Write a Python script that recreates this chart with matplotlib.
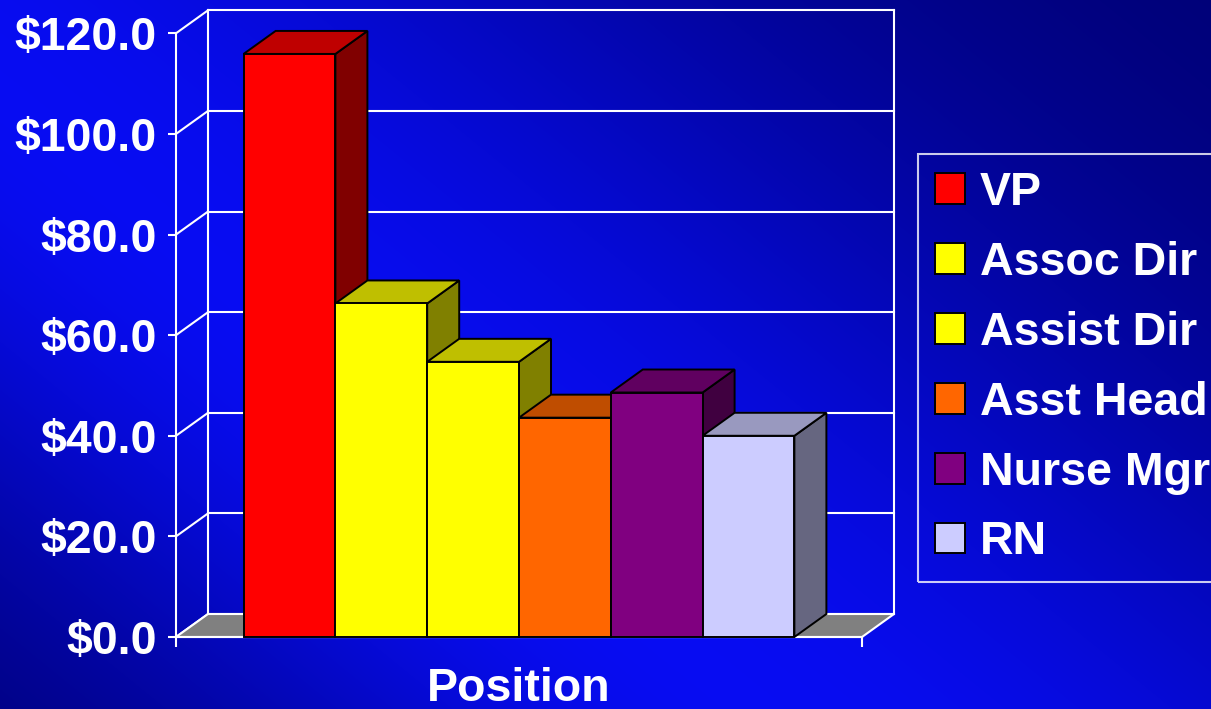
import numpy as np
import matplotlib
matplotlib.use("Agg")
import matplotlib.pyplot as plt
from matplotlib.patches import Polygon, Rectangle
from matplotlib.colors import to_rgb

# ---- data ----
categories = ["VP", "Assoc Dir", "Assist Dir", "Asst Head", "Nurse Mgr", "RN"]
values = [115.9, 66.3, 54.7, 43.6, 48.6, 40.0]
colors = ["#FF0000", "#FFFF00", "#FFFF00", "#FF6600", "#800080", "#CCCCFF"]
yticks = [0, 20, 40, 60, 80, 100, 120]
ytick_labels = ["$0.0", "$20.0", "$40.0", "$60.0", "$80.0", "$100.0", "$120.0"]
xlabel = "Position"

FONT = "Liberation Sans"
FS = 33.5

fig = plt.figure(figsize=(12.11, 7.09), dpi=100)

# ---- background gradient ----
bg = fig.add_axes([0, 0, 1, 1], zorder=-10)
H, Wp = 709, 1211
yy, xx = np.mgrid[0:H, 0:Wp].astype(float)
d = xx * 0.630 + (yy - 100) * (-0.776)
b = np.where(d > 0, np.exp(-(d / 540.0) ** 2), np.exp(-(d / 380.0) ** 2))
bright = np.array([0.03, 0.05, 0.95])
dark = np.array([0.0, 0.0, 0.43])
img = dark[None, None, :] + (bright - dark)[None, None, :] * b[..., None]
bg.imshow(img, aspect="auto", extent=[0, 1, 0, 1], origin="upper")
bg.set_axis_off()

# ---- main axes (front plane) ----
ax = fig.add_axes([176 / 1211, 72 / 709, 686 / 1211, 603.7 / 709])
ax.set_facecolor("none")
n = len(values)
gap = 0.7365
Wx = n + 2 * gap
dx = 0.3486   # depth offset in x units
dy = 4.57     # depth offset in value units
ax.set_xlim(0, Wx)
ax.set_ylim(0, 120)

white = "white"
glw = 1.5
# back wall gridlines
for v in yticks:
    ax.plot([dx, Wx + dx], [v + dy, v + dy], color=white, lw=glw, zorder=1, clip_on=False)
    ax.plot([0, dx], [v, v + dy], color=white, lw=glw, zorder=1, clip_on=False)
ax.plot([dx, dx], [dy, 120 + dy], color=white, lw=glw, zorder=1, clip_on=False)
ax.plot([Wx + dx, Wx + dx], [dy, 120 + dy], color=white, lw=glw, zorder=1, clip_on=False)

# floor
floor = Polygon([(0, 0), (Wx, 0), (Wx + dx, dy), (dx, dy)], closed=True,
                facecolor="#808080", edgecolor=white, lw=glw, zorder=1.5, clip_on=False)
ax.add_patch(floor)

# bars: side and top faces
x_left = gap + np.arange(n)
for i, (v, c) in enumerate(zip(values, colors)):
    rgb = np.array(to_rgb(c))
    L, R = x_left[i], x_left[i] + 1
    side = Polygon([(R, 0), (R + dx, dy), (R + dx, v + dy), (R, v)], closed=True,
                   facecolor=rgb * 0.5, edgecolor="black", lw=1.4, zorder=2, clip_on=False)
    top = Polygon([(L, v), (R, v), (R + dx, v + dy), (L + dx, v + dy)], closed=True,
                  facecolor=rgb * 0.75, edgecolor="black", lw=1.4, zorder=2, clip_on=False)
    ax.add_patch(side)
    ax.add_patch(top)

bars = ax.bar(x_left + 0.5, values, width=1.0, color=colors, edgecolor="black",
              linewidth=1.4, zorder=3, clip_on=False)

# axes styling
for s in ["top", "right"]:
    ax.spines[s].set_visible(False)
for s in ["left", "bottom"]:
    ax.spines[s].set_color(white)
    ax.spines[s].set_linewidth(glw)
    ax.spines[s].set_zorder(1.6)

ax.set_yticks(yticks)
ax.set_yticklabels(ytick_labels)
ax.set_xticks([0, Wx])
ax.set_xticklabels(["", ""])
ax.tick_params(axis="y", direction="out", length=6, width=1.5, color=white, pad=8,
               labelcolor=white, labelsize=FS)
ax.tick_params(axis="x", direction="out", length=7, width=1.5, color=white)
for lab in ax.get_yticklabels():
    lab.set_fontfamily(FONT)
    lab.set_fontweight("bold")

ax.set_xlabel(xlabel, color=white, fontsize=FS, fontweight="bold", fontfamily=FONT, labelpad=11)

# legend
handles = [Rectangle((0, 0), 1, 1, facecolor=c, edgecolor="black", lw=1.4) for c in colors]
leg = fig.legend(handles, categories, loc="upper left",
                 bbox_to_anchor=(918 / 1211, 1 - 154 / 709), bbox_transform=fig.transFigure,
                 frameon=True, fancybox=False, borderaxespad=0,
                 prop={"family": FONT, "weight": "bold", "size": FS},
                 handlelength=0.645, handleheight=0.645, handletextpad=0.32,
                 labelspacing=0.555, borderpad=0.37)
leg.get_frame().set_facecolor("none")
leg.get_frame().set_edgecolor(white)
leg.get_frame().set_linewidth(1.5)
for t in leg.get_texts():
    t.set_color(white)

fig.savefig("out.png", dpi=100)
